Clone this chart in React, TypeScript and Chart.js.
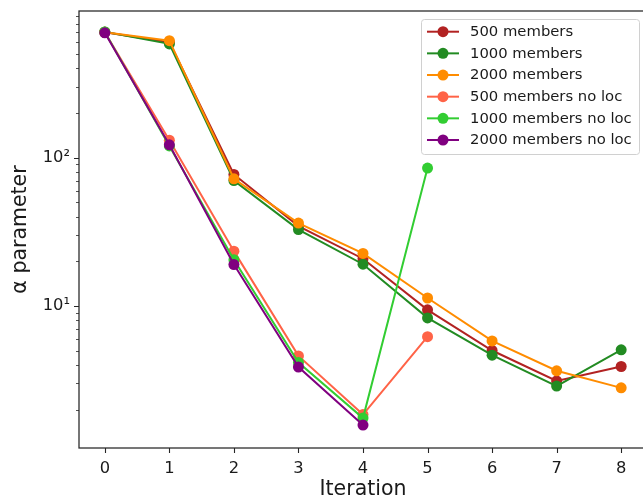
import { useEffect, useRef } from "react";
import { Chart, registerables } from "chart.js";

Chart.register(...registerables);

// Iteration index on the x axis
const iterations = [0, 1, 2, 3, 4, 5, 6, 7, 8];

// α parameter per iteration for each ensemble configuration
const members500 = [700, 600, 77, 34.5, 20.8, 9.4, 5.0, 3.12, 3.9];
const members1000 = [705, 585, 70, 32.7, 19.1, 8.3, 4.65, 2.88, 5.05];
const members2000 = [700, 615, 72, 36.2, 22.6, 11.3, 5.8, 3.65, 2.8];
const members500NoLoc = [700, 131, 23.4, 4.6, 1.85, 6.2];
const members1000NoLoc = [705, 120, 20.5, 4.15, 1.75, 85];
const members2000NoLoc = [695, 122, 19.0, 3.87, 1.57];

const seriesLabels = [
  "500 members",
  "1000 members",
  "2000 members",
  "500 members no loc",
  "1000 members no loc",
  "2000 members no loc",
];
const seriesValues = [
  members500,
  members1000,
  members2000,
  members500NoLoc,
  members1000NoLoc,
  members2000NoLoc,
];
const seriesColors = ["#b22222", "#228b22", "#ff8c00", "#ff6347", "#32cd32", "#800080"];

// Log-axis tick values
const yMajorTicks = [10, 100];
const yMinorTicks = [2, 3, 4, 5, 6, 7, 8, 9, 20, 30, 40, 50, 60, 70, 80, 90, 200, 300, 400, 500, 600, 700, 800, 900];
const yTickLabels: Record<number, string> = { 10: "10¹", 100: "10²" };

const FONT = "'DejaVu Sans', sans-serif";
const SPINE = "#262626";
const TEXT = "#1a1a1a";
const POINT_R = 5.5;
const LINE_W = 2;

// Frame, tick marks and a marker-style legend drawn over the plot
const decorations = {
  id: "decorations",
  afterDraw(chart: any) {
    const { ctx, chartArea } = chart;
    const xs = chart.scales.x;
    const ys = chart.scales.y;
    ctx.save();

    ctx.strokeStyle = SPINE;
    ctx.lineWidth = 1.25;
    ctx.strokeRect(chartArea.left, chartArea.top, chartArea.right - chartArea.left, chartArea.bottom - chartArea.top);

    ctx.lineWidth = 1.1;
    ctx.beginPath();
    for (const it of iterations) {
      const px = Math.round(xs.getPixelForValue(it)) + 0.5;
      ctx.moveTo(px, chartArea.bottom);
      ctx.lineTo(px, chartArea.bottom + 5);
    }
    for (const v of yMajorTicks) {
      const py = Math.round(ys.getPixelForValue(v)) + 0.5;
      ctx.moveTo(chartArea.left, py);
      ctx.lineTo(chartArea.left - 5, py);
    }
    ctx.stroke();
    ctx.lineWidth = 0.8;
    ctx.beginPath();
    for (const v of yMinorTicks) {
      const py = Math.round(ys.getPixelForValue(v)) + 0.5;
      ctx.moveTo(chartArea.left, py);
      ctx.lineTo(chartArea.left - 3, py);
    }
    ctx.stroke();

    // legend
    const bx = 421.5;
    const by = 19.5;
    const bw = 218;
    const bh = 135;
    const r = 3;
    ctx.beginPath();
    ctx.moveTo(bx + r, by);
    ctx.arcTo(bx + bw, by, bx + bw, by + bh, r);
    ctx.arcTo(bx + bw, by + bh, bx, by + bh, r);
    ctx.arcTo(bx, by + bh, bx, by, r);
    ctx.arcTo(bx, by, bx + bw, by, r);
    ctx.closePath();
    ctx.fillStyle = "rgba(255,255,255,0.8)";
    ctx.fill();
    ctx.strokeStyle = "#d0d0d0";
    ctx.lineWidth = 1;
    ctx.stroke();

    ctx.font = `14.8px ${FONT}`;
    ctx.textBaseline = "middle";
    ctx.textAlign = "left";
    seriesLabels.forEach((label, i) => {
      const cy = 31.7 + i * 21.66;
      const c = seriesColors[i];
      ctx.strokeStyle = c;
      ctx.lineWidth = LINE_W;
      ctx.beginPath();
      ctx.moveTo(427, cy);
      ctx.lineTo(459, cy);
      ctx.stroke();
      ctx.fillStyle = c;
      ctx.beginPath();
      ctx.arc(443, cy, POINT_R, 0, Math.PI * 2);
      ctx.fill();
      ctx.fillStyle = TEXT;
      ctx.fillText(label, 470, cy + 0.5);
    });

    ctx.restore();
  },
};

export default function App() {
  const canvasRef = useRef<HTMLCanvasElement | null>(null);

  useEffect(() => {
    document.body.style.margin = "0";
    const canvas = canvasRef.current;
    if (!canvas) return;

    const datasets = seriesValues.map((vals, i) => ({
      label: seriesLabels[i],
      data: vals.map((v, j) => ({ x: iterations[j], y: v })),
      borderColor: seriesColors[i],
      backgroundColor: seriesColors[i],
      pointBackgroundColor: seriesColors[i],
      pointBorderColor: seriesColors[i],
      borderWidth: LINE_W,
      pointRadius: POINT_R,
      pointBorderWidth: 0,
      pointHoverRadius: POINT_R,
      tension: 0,
      order: seriesValues.length - i,
    }));

    const chart = new Chart(canvas, {
      type: "line",
      data: { datasets },
      plugins: [decorations],
      options: {
        animation: false,
        responsive: false,
        events: [],
        layout: { padding: { left: 0, top: 11, right: 13, bottom: 0 } },
        plugins: { legend: { display: false }, tooltip: { enabled: false } },
        scales: {
          x: {
            type: "linear",
            min: -0.4,
            max: 8.4,
            afterBuildTicks: (scale: any) => {
              scale.ticks = iterations.map((v) => ({ value: v }));
            },
            afterFit: (scale: any) => {
              scale.height = 52;
              scale.paddingLeft = 0;
              scale.paddingRight = 0;
            },
            grid: { display: false, drawTicks: false },
            border: { display: false },
            ticks: {
              padding: 11,
              color: TEXT,
              font: { family: FONT, size: 16.3 },
              callback: (v: any) => String(v),
              maxRotation: 0,
            },
            title: {
              display: true,
              text: "Iteration",
              color: TEXT,
              font: { family: FONT, size: 20.5, lineHeight: 1 },
              padding: { top: 0, bottom: 0 },
            },
          },
          y: {
            type: "logarithmic",
            min: 1.1,
            max: 975,
            afterBuildTicks: (scale: any) => {
              scale.ticks = yMajorTicks.map((v) => ({ value: v }));
            },
            afterFit: (scale: any) => {
              scale.width = 79;
              scale.paddingTop = 0;
              scale.paddingBottom = 0;
            },
            grid: { display: false, drawTicks: false },
            border: { display: false },
            ticks: {
              padding: 9,
              color: TEXT,
              font: { family: FONT, size: 16.3 },
              callback: (v: any) => yTickLabels[Number(v)] ?? "",
            },
            title: {
              display: true,
              text: "α parameter",
              color: TEXT,
              font: { family: FONT, size: 20.5, lineHeight: 1 },
              padding: { top: 10, bottom: 0 },
            },
          },
        },
      },
    });

    return () => chart.destroy();
  }, []);

  return (
    <div style={{ width: 643, height: 500, overflow: "hidden", position: "relative" }}>
      <canvas ref={canvasRef} width={660} height={500} style={{ display: "block" }} />
    </div>
  );
}
